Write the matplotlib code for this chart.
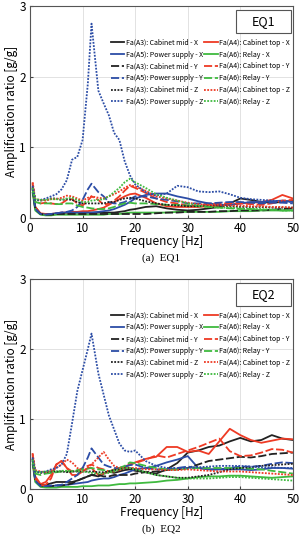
import matplotlib
matplotlib.use("Agg")
import matplotlib.pyplot as plt
from matplotlib.patches import Rectangle

plt.rcParams['font.family'] = ['Noto Sans CJK KR', 'DejaVu Sans']

# frequency grid [Hz]
freq = [0.5, 1, 2, 3, 4, 5, 6, 7, 8, 9, 10, 11, 11.7, 13, 14, 15, 16, 17, 18,
        19, 20, 22, 24, 26, 28, 30, 32, 34, 36, 38, 40, 42, 44, 46, 48, 50]

sensors = ["Fa(A3): Cabinet mid", "Fa(A4): Cabinet top",
           "Fa(A5): Power supply", "Fa(A6): Relay"]
directions = ["X", "Y", "Z"]

# ---- EQ1 ----
eq1_a3_x = [0.42, 0.15, 0.05, 0.04, 0.05, 0.05, 0.06, 0.07, 0.07, 0.07, 0.07, 0.07, 0.07, 0.07, 0.07, 0.07, 0.07, 0.08,
            0.09, 0.11, 0.12, 0.15, 0.16, 0.13, 0.11, 0.10, 0.11, 0.13, 0.15, 0.20, 0.27, 0.25, 0.22, 0.21, 0.22, 0.24]
eq1_a3_y = [0.40, 0.12, 0.05, 0.04, 0.04, 0.05, 0.05, 0.05, 0.05, 0.05, 0.05, 0.05, 0.05, 0.05, 0.05, 0.05, 0.05, 0.05,
            0.05, 0.05, 0.05, 0.05, 0.06, 0.07, 0.07, 0.08, 0.08, 0.08, 0.09, 0.09, 0.10, 0.10, 0.10, 0.11, 0.12, 0.13]
eq1_a3_z = [0.45, 0.25, 0.24, 0.25, 0.27, 0.27, 0.25, 0.26, 0.25, 0.22, 0.20, 0.20, 0.20, 0.20, 0.20, 0.22, 0.22, 0.25,
            0.27, 0.28, 0.27, 0.23, 0.20, 0.18, 0.17, 0.16, 0.16, 0.17, 0.17, 0.16, 0.15, 0.15, 0.15, 0.14, 0.14, 0.14]
eq1_a4_x = [0.48, 0.15, 0.06, 0.05, 0.05, 0.06, 0.07, 0.07, 0.08, 0.08, 0.09, 0.09, 0.10, 0.12, 0.14, 0.18, 0.22, 0.26,
            0.30, 0.33, 0.34, 0.28, 0.20, 0.16, 0.15, 0.15, 0.15, 0.16, 0.17, 0.18, 0.20, 0.21, 0.22, 0.25, 0.32, 0.27]
eq1_a4_y = [0.47, 0.22, 0.20, 0.21, 0.20, 0.19, 0.20, 0.25, 0.26, 0.20, 0.17, 0.24, 0.30, 0.25, 0.18, 0.20, 0.24, 0.30,
            0.38, 0.45, 0.42, 0.35, 0.27, 0.22, 0.20, 0.17, 0.17, 0.19, 0.20, 0.20, 0.20, 0.19, 0.18, 0.20, 0.24, 0.25]
eq1_a4_z = [0.50, 0.26, 0.25, 0.24, 0.26, 0.26, 0.28, 0.31, 0.30, 0.27, 0.24, 0.28, 0.30, 0.28, 0.27, 0.30, 0.33, 0.37,
            0.42, 0.46, 0.44, 0.38, 0.30, 0.27, 0.24, 0.21, 0.19, 0.18, 0.18, 0.17, 0.17, 0.16, 0.16, 0.15, 0.15, 0.14]
eq1_a5_x = [0.40, 0.12, 0.05, 0.04, 0.05, 0.06, 0.07, 0.07, 0.07, 0.07, 0.07, 0.07, 0.07, 0.08, 0.09, 0.10, 0.12, 0.15,
            0.18, 0.22, 0.27, 0.32, 0.34, 0.34, 0.30, 0.27, 0.23, 0.20, 0.18, 0.18, 0.20, 0.22, 0.22, 0.23, 0.24, 0.22]
eq1_a5_y = [0.42, 0.12, 0.05, 0.04, 0.05, 0.06, 0.07, 0.08, 0.10, 0.15, 0.25, 0.40, 0.48, 0.36, 0.30, 0.22, 0.20, 0.20,
            0.22, 0.26, 0.30, 0.30, 0.27, 0.25, 0.23, 0.20, 0.20, 0.20, 0.21, 0.22, 0.22, 0.21, 0.20, 0.21, 0.21, 0.20]
eq1_a5_z = [0.45, 0.25, 0.25, 0.27, 0.30, 0.33, 0.40, 0.53, 0.82, 0.86, 1.10, 1.90, 2.75, 1.80, 1.62, 1.45, 1.20, 1.10,
            0.80, 0.60, 0.47, 0.36, 0.31, 0.34, 0.45, 0.43, 0.37, 0.36, 0.37, 0.33, 0.28, 0.26, 0.25, 0.24, 0.23, 0.22]
eq1_a6_x = [0.35, 0.10, 0.04, 0.03, 0.03, 0.04, 0.04, 0.04, 0.04, 0.04, 0.04, 0.04, 0.04, 0.04, 0.04, 0.05, 0.05, 0.05,
            0.06, 0.07, 0.07, 0.07, 0.07, 0.07, 0.08, 0.08, 0.08, 0.08, 0.08, 0.09, 0.09, 0.09, 0.10, 0.10, 0.10, 0.10]
eq1_a6_y = [0.40, 0.22, 0.20, 0.20, 0.20, 0.19, 0.19, 0.20, 0.20, 0.17, 0.15, 0.14, 0.13, 0.12, 0.12, 0.13, 0.15, 0.18,
            0.20, 0.21, 0.20, 0.20, 0.19, 0.18, 0.18, 0.17, 0.16, 0.15, 0.14, 0.13, 0.12, 0.12, 0.11, 0.11, 0.10, 0.10]
eq1_a6_z = [0.42, 0.26, 0.25, 0.25, 0.26, 0.26, 0.25, 0.27, 0.28, 0.25, 0.22, 0.22, 0.24, 0.25, 0.26, 0.30, 0.36, 0.42,
            0.50, 0.55, 0.50, 0.42, 0.33, 0.28, 0.24, 0.20, 0.17, 0.15, 0.14, 0.14, 0.13, 0.12, 0.12, 0.11, 0.10, 0.10]

# ---- EQ2 ----
eq2_a3_x = [0.42, 0.15, 0.06, 0.06, 0.08, 0.10, 0.10, 0.10, 0.10, 0.12, 0.15, 0.18, 0.20, 0.18, 0.22, 0.25, 0.23, 0.25,
            0.27, 0.28, 0.26, 0.24, 0.22, 0.28, 0.37, 0.52, 0.55, 0.60, 0.62, 0.68, 0.73, 0.68, 0.70, 0.77, 0.72, 0.70]
eq2_a3_y = [0.40, 0.12, 0.05, 0.04, 0.04, 0.05, 0.05, 0.06, 0.08, 0.12, 0.15, 0.18, 0.20, 0.20, 0.18, 0.18, 0.20, 0.20,
            0.20, 0.20, 0.22, 0.24, 0.25, 0.27, 0.28, 0.30, 0.35, 0.40, 0.42, 0.44, 0.46, 0.45, 0.47, 0.50, 0.51, 0.52]
eq2_a3_z = [0.45, 0.25, 0.23, 0.24, 0.25, 0.25, 0.25, 0.24, 0.25, 0.25, 0.25, 0.25, 0.25, 0.24, 0.24, 0.25, 0.27, 0.28,
            0.30, 0.30, 0.28, 0.24, 0.20, 0.18, 0.16, 0.16, 0.18, 0.20, 0.24, 0.28, 0.30, 0.31, 0.33, 0.34, 0.35, 0.36]
eq2_a4_x = [0.50, 0.18, 0.07, 0.10, 0.20, 0.35, 0.40, 0.30, 0.20, 0.20, 0.25, 0.30, 0.30, 0.20, 0.22, 0.25, 0.28, 0.30,
            0.32, 0.35, 0.38, 0.43, 0.46, 0.60, 0.60, 0.53, 0.55, 0.50, 0.68, 0.86, 0.77, 0.70, 0.66, 0.69, 0.72, 0.71]
eq2_a4_y = [0.48, 0.15, 0.05, 0.06, 0.15, 0.35, 0.40, 0.30, 0.25, 0.26, 0.30, 0.33, 0.35, 0.30, 0.28, 0.25, 0.25, 0.27,
            0.30, 0.35, 0.37, 0.42, 0.48, 0.45, 0.50, 0.55, 0.60, 0.66, 0.72, 0.54, 0.47, 0.48, 0.52, 0.57, 0.56, 0.52]
eq2_a4_z = [0.50, 0.27, 0.25, 0.24, 0.26, 0.30, 0.35, 0.42, 0.38, 0.30, 0.25, 0.30, 0.35, 0.45, 0.53, 0.42, 0.33, 0.30,
            0.30, 0.30, 0.30, 0.28, 0.28, 0.27, 0.27, 0.28, 0.27, 0.26, 0.25, 0.25, 0.25, 0.24, 0.23, 0.22, 0.21, 0.20]
eq2_a5_x = [0.42, 0.12, 0.04, 0.04, 0.04, 0.05, 0.05, 0.06, 0.07, 0.08, 0.09, 0.10, 0.12, 0.14, 0.15, 0.15, 0.17, 0.20,
            0.22, 0.25, 0.28, 0.30, 0.33, 0.38, 0.42, 0.47, 0.30, 0.28, 0.28, 0.28, 0.28, 0.27, 0.28, 0.30, 0.30, 0.29]
eq2_a5_y = [0.42, 0.12, 0.04, 0.04, 0.05, 0.05, 0.06, 0.10, 0.15, 0.20, 0.30, 0.45, 0.58, 0.45, 0.35, 0.32, 0.30, 0.30,
            0.32, 0.34, 0.35, 0.30, 0.28, 0.28, 0.30, 0.32, 0.30, 0.28, 0.28, 0.30, 0.32, 0.32, 0.33, 0.36, 0.38, 0.37]
eq2_a5_z = [0.45, 0.25, 0.24, 0.25, 0.28, 0.30, 0.35, 0.50, 0.94, 1.40, 1.70, 2.00, 2.22, 1.65, 1.35, 1.05, 0.85, 0.65,
            0.55, 0.53, 0.55, 0.40, 0.33, 0.30, 0.30, 0.30, 0.31, 0.32, 0.33, 0.33, 0.33, 0.32, 0.31, 0.31, 0.30, 0.30]
eq2_a6_x = [0.35, 0.10, 0.03, 0.02, 0.02, 0.02, 0.03, 0.03, 0.03, 0.03, 0.04, 0.04, 0.04, 0.05, 0.05, 0.05, 0.06, 0.07,
            0.07, 0.08, 0.08, 0.09, 0.10, 0.12, 0.13, 0.15, 0.17, 0.18, 0.18, 0.19, 0.19, 0.18, 0.17, 0.16, 0.17, 0.18]
eq2_a6_y = [0.40, 0.22, 0.20, 0.22, 0.23, 0.24, 0.25, 0.25, 0.25, 0.27, 0.28, 0.29, 0.30, 0.28, 0.27, 0.25, 0.27, 0.30,
            0.33, 0.38, 0.37, 0.33, 0.30, 0.28, 0.28, 0.29, 0.30, 0.30, 0.30, 0.30, 0.30, 0.29, 0.28, 0.26, 0.24, 0.22]
eq2_a6_z = [0.42, 0.25, 0.24, 0.25, 0.25, 0.25, 0.26, 0.26, 0.26, 0.25, 0.25, 0.24, 0.23, 0.22, 0.22, 0.23, 0.25, 0.28,
            0.30, 0.30, 0.28, 0.24, 0.20, 0.18, 0.16, 0.15, 0.15, 0.15, 0.16, 0.17, 0.17, 0.16, 0.15, 0.14, 0.13, 0.12]

eq1 = {(0, "X"): eq1_a3_x, (0, "Y"): eq1_a3_y, (0, "Z"): eq1_a3_z,
       (1, "X"): eq1_a4_x, (1, "Y"): eq1_a4_y, (1, "Z"): eq1_a4_z,
       (2, "X"): eq1_a5_x, (2, "Y"): eq1_a5_y, (2, "Z"): eq1_a5_z,
       (3, "X"): eq1_a6_x, (3, "Y"): eq1_a6_y, (3, "Z"): eq1_a6_z}
eq2 = {(0, "X"): eq2_a3_x, (0, "Y"): eq2_a3_y, (0, "Z"): eq2_a3_z,
       (1, "X"): eq2_a4_x, (1, "Y"): eq2_a4_y, (1, "Z"): eq2_a4_z,
       (2, "X"): eq2_a5_x, (2, "Y"): eq2_a5_y, (2, "Z"): eq2_a5_z,
       (3, "X"): eq2_a6_x, (3, "Y"): eq2_a6_y, (3, "Z"): eq2_a6_z}

colors = ["#222222", "#ee3a24", "#2c4da6", "#3fba3f"]
styles = {"X": "-", "Y": (0, (4.5, 1.5)), "Z": (0, (1, 0.8))}


def draw(ax, data, tag, caption):
    handles = {}
    for d in directions:
        for s in range(4):
            ln, = ax.plot(freq, data[(s, d)], color=colors[s], ls=styles[d], lw=1.3,
                          label=f"{sensors[s]} - {d}")
            handles[(s, d)] = ln
    ax.set_xlim(0, 50)
    ax.set_ylim(0, 3)
    ax.set_xticks([0, 10, 20, 30, 40, 50])
    ax.set_yticks([0, 1, 2, 3])
    ax.grid(color="#dddddd", lw=0.6)
    ax.set_axisbelow(True)
    ax.tick_params(direction="in", length=2.5, labelsize=8.5, pad=3, color="#444444")
    for sp in ax.spines.values():
        sp.set_color("#555555")
        sp.set_linewidth(0.8)
    ax.set_xlabel("Frequency [Hz]", fontsize=8.5, labelpad=0)
    ax.set_ylabel("Amplification ratio [g/g]", fontsize=8.5, labelpad=1)

    # legend rows pair A3/A4 and A5/A6; matplotlib fills columns first
    col1 = []
    col2 = []
    for d in directions:
        col1 += [handles[(0, d)], handles[(2, d)]]
        col2 += [handles[(1, d)], handles[(3, d)]]
    hs = col1 + col2
    ax.legend(hs, [h.get_label() for h in hs], ncol=2, loc="upper right",
              bbox_to_anchor=(1.005, 0.865), frameon=False, fontsize=5.0,
              handlelength=1.9, handletextpad=0.2, columnspacing=0.2,
              labelspacing=0.55, borderaxespad=0.2)

    ax.add_patch(Rectangle((0.783, 0.872), 0.209, 0.109, transform=ax.transAxes,
                           facecolor="white", edgecolor="#555555", lw=0.8, zorder=5))
    ax.text(0.8875, 0.926, tag, transform=ax.transAxes, ha="center", va="center",
            fontsize=9, zorder=6)
    ax.text(0.5, -0.19, caption, transform=ax.transAxes, ha="center", va="center",
            fontsize=8, family="Liberation Serif")


fig = plt.figure(figsize=(3.01, 5.38), dpi=100)
ax1 = fig.add_axes([0.0997, 0.5957, 0.8733, 0.3931])
ax2 = fig.add_axes([0.0997, 0.0911, 0.8733, 0.3903])
draw(ax1, eq1, "EQ1", "(a)  EQ1")
draw(ax2, eq2, "EQ2", "(b)  EQ2")

fig.savefig("out.png", dpi=100)
